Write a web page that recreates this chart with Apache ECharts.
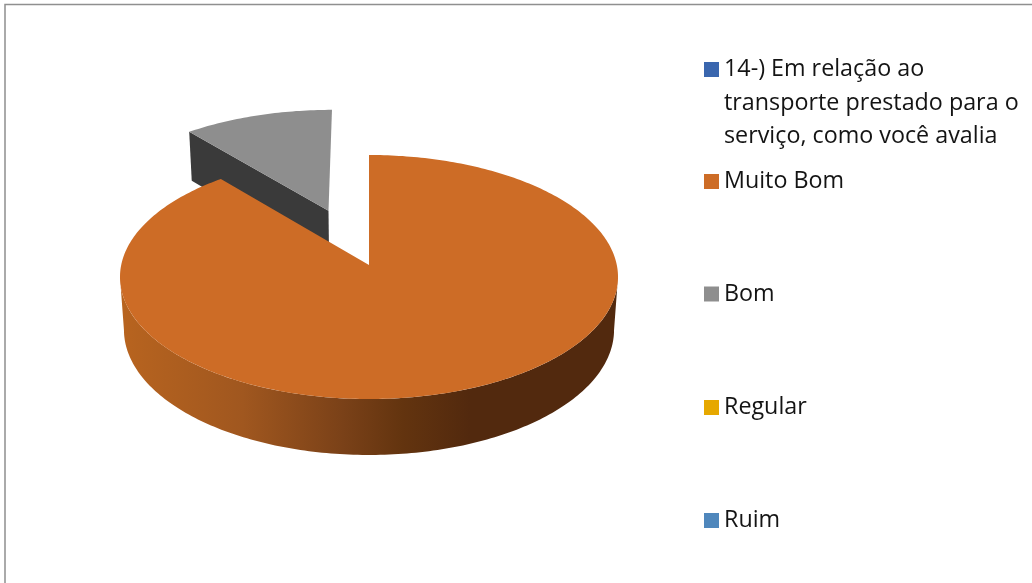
<!DOCTYPE html>
<html>
<head>
<meta charset="utf-8">
<style>html,body{margin:0;padding:0;background:#fff}#c{width:1032px;height:583px}</style>
<script src="https://cdn.jsdelivr.net/npm/echarts@6/dist/echarts.min.js"></script>
</head>
<body>
<div id="c"></div>
<script>
const categories = ['14-) Em relação ao\ntransporte prestado para o\nserviço, como você avalia', 'Muito Bom', 'Bom', 'Regular', 'Ruim'];
const values = [null, 8, 1, 0, 0];
const colors = ['#3A66AE', '#CD6C26', '#8E8E8E', '#E6A800', '#4F87BC'];
const wallColors = [null, null, '#3A3A3A', null, null];
const exploded = [0, 0, 0.5, 0, 0];
const legendCenters = [69.5, 181.5, 294, 407.5, 520.5];

const LH = 33.5;
const P = 0.0984;
const total = values.reduce((s, v) => s + (v || 0), 0);

// perspective camera for the 3D pie: unit disc (u, v) at depth z -> screen
function project(u, v, z) {
  const den = 1 + P * v + 0.016 * z;
  return [369 + 247.8 * u / den, (265 - 94.75 * v + 57.7 * z) / den];
}
function rimPoint(angle, e, z) {
  // angle clockwise from 12 o'clock, e = slice offset on the disc plane
  return project(e[0] + Math.sin(angle), e[1] + Math.cos(angle), z);
}
function sliceRange(index) {
  let start = 0;
  for (let i = 0; i < index; i++) start += values[i] || 0;
  const s = start / total * Math.PI * 2;
  const t = (start + values[index]) / total * Math.PI * 2;
  return [s, t];
}
function arcPts(a0, a1, e, z) {
  const n = Math.max(2, Math.ceil(Math.abs(a1 - a0) * 60));
  const out = [];
  for (let i = 0; i <= n; i++) out.push(rimPoint(a0 + (a1 - a0) * i / n, e, z));
  return out;
}
function renderSlice(params, api) {
  const i = params.seriesIndex;
  const val = api.value(0);
  if (!val) return null;
  const [a0, a1] = sliceRange(i);
  const mid = (a0 + a1) / 2;
  const e = [exploded[i] * Math.sin(mid), exploded[i] * Math.cos(mid)];
  const apex = z => project(e[0], e[1], z);
  const children = [];
  if (wallColors[i]) {
    // radial side wall facing the viewer
    children.push({ type: 'polygon', shape: { points: [apex(0), rimPoint(a0, e, 0), rimPoint(a0, e, 1), apex(1)] },
      style: { fill: wallColors[i] } });
  } else {
    // curved outer wall between the two silhouette angles of the disc
    const sil = Math.acos(-P);
    const lo = Math.max(a0, sil), hi = Math.min(a1, Math.PI * 2 - sil);
    const pts = arcPts(lo, hi, e, 0).concat(arcPts(hi, lo, e, 1));
    children.push({ type: 'polygon', shape: { points: pts }, style: {
      fill: new echarts.graphic.LinearGradient(0, 0, 1, 0, [
        { offset: 0, color: '#B8641F' }, { offset: 0.247, color: '#A0571F' },
        { offset: 0.448, color: '#7A4118' }, { offset: 0.568, color: '#63340F' },
        { offset: 0.703, color: '#52290E' }, { offset: 1, color: '#52290E' }
      ]) } });
  }
  children.push({ type: 'polygon', shape: { points: [apex(0)].concat(arcPts(a0, a1, e, 0)) }, style: { fill: colors[i] } });
  return { type: 'group', children };
}

const series = categories.map((name, i) => ({
  name, type: 'custom', coordinateSystem: 'none', z: i === 1 ? 3 : 2, silent: true,
  itemStyle: { color: colors[i] }, renderItem: renderSlice, data: [[values[i]]]
}));
const legend = categories.map((name, i) => {
  const lines = name.split('\n').length;
  const pad = lines - 1;
  const full = lines + pad;
  return {
    data: [name], left: 704, top: legendCenters[i] - full * LH / 2, padding: 0, orient: 'vertical',
    icon: 'rect', itemWidth: 15, itemHeight: 15, selectedMode: false,
    formatter: n => '\n'.repeat(pad) + n,
    textStyle: { fontFamily: 'Open Sans', fontSize: 23.3, lineHeight: LH, color: '#141414' }
  };
});
const chart = echarts.init(document.getElementById('c'), null, { renderer: 'canvas' });
chart.setOption({
  animation: false, backgroundColor: '#fff', legend, series,
  graphic: [{ type: 'rect', silent: true, z: 0, shape: { x: 5, y: 4.5, width: 1040, height: 600 },
    style: { fill: 'none', stroke: '#8F8F8F', lineWidth: 1.5 } }]
});
</script>
</body>
</html>
